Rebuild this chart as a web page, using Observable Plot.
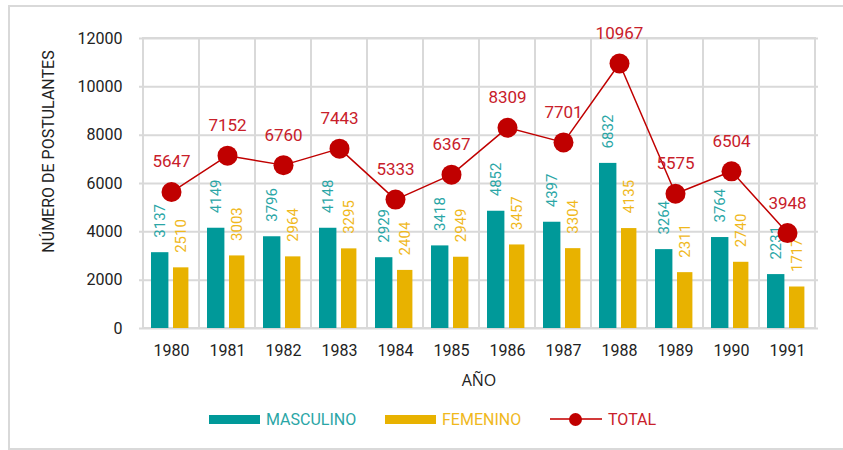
<!DOCTYPE html>
<html>
<head>
<meta charset="utf-8">
<script src="https://cdn.jsdelivr.net/npm/d3@7"></script>
<script src="https://cdn.jsdelivr.net/npm/@observablehq/plot@0.6"></script>
<style>
  html, body { margin: 0; padding: 0; background: #fff; }
  body { width: 843px; height: 450px; position: relative; overflow: hidden;
         font-family: Roboto, "Liberation Sans Narrow", sans-serif; }
  #frame { position: absolute; left: 8px; top: 5px; width: 850px; height: 441px;
           border: 2px solid #d9d9d9; pointer-events: none; }
  #chart { position: absolute; left: 0; top: 0; }
  #legend { position: absolute; left: 0; top: 400px; width: 843px; height: 40px; }
  .item { position: absolute; top: 9px; height: 20px; display: flex; align-items: center; font-size: 16px; }
  .sw { width: 51px; height: 9px; margin-right: 6px; }
  .ln { position: relative; width: 52px; height: 20px; margin-right: 6px; }
  .ln .l { position: absolute; left: 0; right: 0; top: 9px; height: 2px; background: #d23a3a; }
  .ln .d { position: absolute; left: 19px; top: 3.5px; width: 13px; height: 13px; border-radius: 50%; background: #c00000; }
</style>
</head>
<body>
<div id="chart"></div>
<div id="legend">
  <div class="item" style="left:209px"><div class="sw" style="background:#009999"></div><span style="color:#2aa6a6">MASCULINO</span></div>
  <div class="item" style="left:385px"><div class="sw" style="background:#e8b200"></div><span style="color:#f0b81c">FEMENINO</span></div>
  <div class="item" style="left:550px"><div class="ln"><div class="l"></div><div class="d"></div></div><span style="color:#c8202a">TOTAL</span></div>
</div>
<div id="frame"></div>
<script>
const years = ["1980","1981","1982","1983","1984","1985","1986","1987","1988","1989","1990","1991"];
const masculino = [3137, 4149, 3796, 4148, 2929, 3418, 4852, 4397, 6832, 3264, 3764, 2231];
const femenino  = [2510, 3003, 2964, 3295, 2404, 2949, 3457, 3304, 4135, 2311, 2740, 1717];
const total     = [5647, 7152, 6760, 7443, 5333, 6367, 8309, 7701, 10967, 5575, 6504, 3948];
const yTicks = [0, 2000, 4000, 6000, 8000, 10000, 12000];

const data = years.map((year, i) => ({year, masculino: masculino[i], femenino: femenino[i], total: total[i]}));

const grid = "#d9d9d9";
const chart = Plot.plot({
  width: 843,
  height: 400,
  marginTop: 38,
  marginBottom: 72,
  marginLeft: 139,
  marginRight: 25,
  style: {fontFamily: 'Roboto, sans-serif', fontSize: "16px", color: "#222", background: "transparent"},
  x: {type: "band", domain: years, padding: 0},
  y: {domain: [0, 12000]},
  marks: [
    Plot.ruleY(yTicks, {stroke: grid, strokeWidth: 2}),
    Plot.cell(data, {x: "year", fill: "none", stroke: grid, strokeWidth: 2}),
    Plot.barY(data, {x: "year", y: "masculino", fill: "#009999", insetLeft: 8, insetRight: 30.6}),
    Plot.barY(data, {x: "year", y: "femenino", fill: "#e8b200", insetLeft: 30, insetRight: 10.6}),
    Plot.text(data, {x: "year", y: "masculino", text: d => String(d.masculino), rotate: -90, textAnchor: "start", lineAnchor: "middle", dx: -11, dy: -15, fill: "#2aa6a6", fontSize: 15}),
    Plot.text(data, {x: "year", y: "femenino", text: d => String(d.femenino), rotate: -90, textAnchor: "start", lineAnchor: "middle", dx: 10, dy: -15, fill: "#f0b81c", fontSize: 15}),
    Plot.line(data, {x: "year", y: "total", stroke: "#c00000", strokeWidth: 1.5}),
    Plot.dot(data, {x: "year", y: "total", r: 10, fill: "#c00000"}),
    Plot.text(data, {x: "year", y: "total", text: d => String(d.total), dy: -30, fill: "#c8202a", fontSize: 17}),
    Plot.axisY(yTicks, {tickSize: 0, tickPadding: 17, label: null, fontSize: 16, tickFormat: d => String(d)}),
    Plot.axisX({tickSize: 0, tickPadding: 16, label: null, fontSize: 16}),
    Plot.text(["AÑO"], {frameAnchor: "bottom", dy: 57, fontSize: 16, fill: "#222", fontFamily: '"Open Sans", sans-serif'}),
    Plot.text(["NÚMERO DE POSTULANTES"], {frameAnchor: "left", textAnchor: "middle", rotate: -90, dx: -91, dy: -32, fontSize: 16, fill: "#222"})
  ]
});
document.getElementById("chart").appendChild(chart);
</script>
</body>
</html>
